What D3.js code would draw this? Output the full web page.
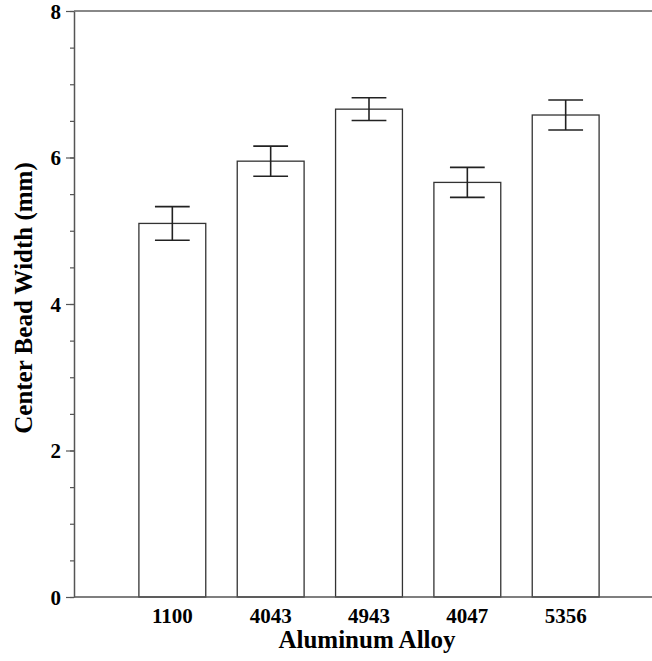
<!DOCTYPE html>
<html><head><meta charset="utf-8">
<script src="https://cdn.jsdelivr.net/npm/d3@7"></script>
<style>body{margin:0;background:#fff}svg{display:block}text{font-family:"Liberation Serif","Times New Roman",serif;font-weight:bold;fill:#000}</style>
</head><body><svg id="c" width="652" height="661"></svg>
<script>
const categories = ["1100", "4043", "4943", "4047", "5356"];
const values = [5.10, 5.95, 6.66, 5.66, 6.58];
const errors = [0.23, 0.205, 0.155, 0.205, 0.205];
const yMajorTicks = [0, 2, 4, 6, 8];
const yMinorTicks = d3.range(0, 8.01, 0.5);

const svg = d3.select("#c");
const pLeft = 74, pRight = 664, pTop = 11, pBottom = 597;
const unit = (pRight - pLeft) / 6;
const x = d3.scaleBand().domain(categories).range([pLeft + unit * 0.5, pLeft + unit * 5.5]).paddingInner(0.32).paddingOuter(0.16);
const y = d3.scaleLinear().domain([0, 8]).range([pBottom, pTop]);

// top frame line
svg.append("line").attr("x1", pLeft).attr("x2", pRight).attr("y1", pTop).attr("y2", pTop).attr("stroke", "#888").attr("stroke-width", 2);

// bars
svg.selectAll("rect.bar").data(categories).join("rect").attr("class", "bar")
  .attr("x", d => x(d)).attr("width", x.bandwidth())
  .attr("y", (d, i) => y(values[i])).attr("height", (d, i) => y(0) - y(values[i]))
  .attr("fill", "#fff").attr("stroke", "#333").attr("stroke-width", 1.3);

// error bars
const cap = x.bandwidth() * 0.26;
const eg = svg.selectAll("g.err").data(categories).join("g").attr("class", "err").attr("stroke", "#222").attr("stroke-width", 1.6);
eg.append("line").attr("x1", d => x(d) + x.bandwidth() / 2).attr("x2", d => x(d) + x.bandwidth() / 2)
  .attr("y1", (d, i) => y(values[i] + errors[i])).attr("y2", (d, i) => y(values[i] - errors[i]));
eg.append("line").attr("x1", d => x(d) + x.bandwidth() / 2 - cap).attr("x2", d => x(d) + x.bandwidth() / 2 + cap)
  .attr("y1", (d, i) => y(values[i] + errors[i])).attr("y2", (d, i) => y(values[i] + errors[i]));
eg.append("line").attr("x1", d => x(d) + x.bandwidth() / 2 - cap).attr("x2", d => x(d) + x.bandwidth() / 2 + cap)
  .attr("y1", (d, i) => y(values[i] - errors[i])).attr("y2", (d, i) => y(values[i] - errors[i]));

// y axis minor ticks
const yMinor = svg.append("g").attr("transform", `translate(${pLeft},0)`)
  .call(d3.axisLeft(y).tickValues(yMinorTicks).tickSize(4).tickFormat(""));
yMinor.select(".domain").remove();
yMinor.selectAll("line").attr("stroke", "#555").attr("stroke-width", 1.2);

// y axis major
const yAx = svg.append("g").attr("transform", `translate(${pLeft},0)`)
  .call(d3.axisLeft(y).tickValues(yMajorTicks).tickSize(8).tickSizeOuter(0).tickPadding(5).tickFormat(d3.format("d")));
yAx.select(".domain").attr("stroke", "#555").attr("stroke-width", 1.5);
yAx.selectAll("line").attr("stroke", "#555").attr("stroke-width", 1.2);
yAx.selectAll("text").attr("font-size", 21).attr("dy", "0.34em");

// x axis
const xAx = svg.append("g").attr("transform", `translate(0,${pBottom})`)
  .call(d3.axisBottom(x).tickSize(0).tickPadding(0));
xAx.select(".domain").remove();
xAx.selectAll("text").attr("font-size", 21).attr("dy", null).attr("y", 25.5);
svg.append("line").attr("x1", pLeft).attr("x2", pRight).attr("y1", pBottom).attr("y2", pBottom).attr("stroke", "#555").attr("stroke-width", 1.5);

// titles
svg.append("text").attr("x", x("4943") + x.bandwidth() / 2 - 2).attr("y", 648).attr("text-anchor", "middle").attr("font-size", 25).text("Aluminum Alloy");
svg.append("text").attr("transform", `translate(32,298) rotate(-90)`).attr("text-anchor", "middle").attr("font-size", 25).text("Center Bead Width (mm)");
</script></body></html>
